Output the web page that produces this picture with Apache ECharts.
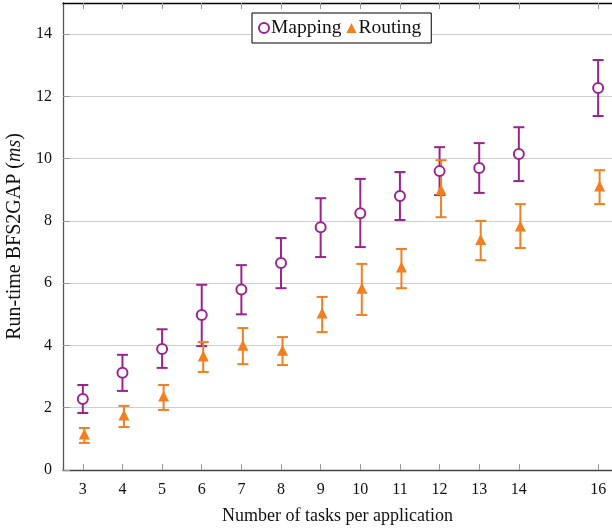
<!DOCTYPE html>
<html>
<head>
<meta charset="utf-8">
<script src="https://cdn.jsdelivr.net/npm/echarts@6/dist/echarts.min.js"></script>
<style>
  html, body { margin: 0; padding: 0; background: #fff; }
  #chart { width: 612px; height: 530px; }
</style>
</head>
<body>
<div id="chart"></div>
<script>
// number of tasks per application (x positions)
const tasks = [3, 4, 5, 6, 7, 8, 9, 10, 11, 12, 13, 14, 16];
const yTicks = [0, 2, 4, 6, 8, 10, 12, 14];

// Mapping: mean, lower and upper end of the error bar
const mappingMean = [2.28, 3.12, 3.89, 4.98, 5.80, 6.65, 7.80, 8.25, 8.80, 9.60, 9.70, 10.15, 12.27];
const mappingLow = [1.83, 2.54, 3.28, 3.98, 5.00, 5.84, 6.84, 7.16, 8.03, 8.83, 8.90, 9.28, 11.37];
const mappingHigh = [2.73, 3.70, 4.52, 5.95, 6.58, 7.45, 8.73, 9.35, 9.57, 10.37, 10.50, 11.01, 13.17];

// Routing
const routingMean = [1.16, 1.77, 2.38, 3.66, 4.01, 3.85, 5.04, 5.84, 6.52, 9.00, 7.40, 7.84, 9.12];
const routingLow = [0.87, 1.38, 1.93, 3.15, 3.40, 3.37, 4.43, 4.98, 5.84, 8.12, 6.74, 7.13, 8.54];
const routingHigh = [1.35, 2.06, 2.73, 4.11, 4.56, 4.27, 5.56, 6.62, 7.10, 9.95, 8.00, 8.54, 9.63];

const purple = '#9c2490';
const orange = '#f28022';
const font = 'Liberation Serif';

function errorBars(low, high, color, shift) {
  return {
    type: 'custom',
    silent: true,
    z: 2,
    data: tasks.map((t, i) => [t, low[i], high[i]]),
    encode: { x: 0, y: [1, 2] },
    renderItem: function (params, api) {
      const lo = api.coord([api.value(0), api.value(1)]);
      const hi = api.coord([api.value(0), api.value(2)]);
      const x = lo[0] + shift;
      const w = 5.5;
      const style = { stroke: color, lineWidth: 2, fill: null };
      return {
        type: 'group',
        children: [
          { type: 'line', shape: { x1: x, y1: lo[1], x2: x, y2: hi[1] }, style: style },
          { type: 'line', shape: { x1: x - w, y1: lo[1], x2: x + w, y2: lo[1] }, style: style },
          { type: 'line', shape: { x1: x - w, y1: hi[1], x2: x + w, y2: hi[1] }, style: style }
        ]
      };
    }
  };
}

let chart = echarts.init(document.getElementById('chart'));
let option = {
  animation: false,
  textStyle: { fontFamily: font },
  grid: { left: 63, right: 0, top: 3, bottom: 60, containLabel: false, outerBoundsMode: 'none' },
  legend: {
    left: 252,
    top: 13,
    padding: [5, 10, 5, 6],
    itemGap: 5,
    itemWidth: 10,
    itemHeight: 10,
    borderColor: '#000',
    borderWidth: 1,
    backgroundColor: '#fff',
    textStyle: { fontFamily: font, fontSize: 19.5, color: '#111', padding: [0, 0, 0, -3] },
    data: ['Mapping', 'Routing']
  },
  xAxis: [
    {
      type: 'value',
      min: 2.5,
      max: 16.35,
      name: 'Number of tasks per application',
      nameLocation: 'middle',
      nameGap: 37,
      nameTextStyle: { fontFamily: font, fontSize: 18, color: '#111' },
      axisLine: { lineStyle: { color: '#444', width: 1.3 } },
      axisTick: { inside: true, length: 6, customValues: tasks, lineStyle: { color: '#999' } },
      axisLabel: { customValues: tasks, margin: 12, fontFamily: font, fontSize: 16, color: '#111' },
      splitLine: { show: false }
    },
    {
      type: 'value',
      position: 'top',
      min: 2.5,
      max: 16.35,
      axisLine: { lineStyle: { color: '#000', width: 1.3 } },
      axisTick: { inside: true, length: 6, customValues: tasks, lineStyle: { color: '#999' } },
      axisLabel: { show: false },
      splitLine: { show: false }
    }
  ],
  yAxis: {
    type: 'value',
    min: 0,
    max: 15,
    interval: 2,
    name: 'Run-time BFS2GAP ({i|ms})',
    nameLocation: 'middle',
    nameGap: 34,
    nameTextStyle: {
      fontFamily: font, fontSize: 20, color: '#111',
      rich: { i: { fontFamily: font, fontSize: 20, fontStyle: 'italic', color: '#111' } }
    },
    axisLine: { show: true, lineStyle: { color: '#555', width: 1.3 } },
    axisTick: { inside: true, length: 7, customValues: yTicks, lineStyle: { color: '#999' } },
    axisLabel: { customValues: yTicks, margin: 11, fontFamily: font, fontSize: 16, color: '#111' },
    splitLine: { show: true, lineStyle: { color: '#cfcfcf', width: 1.2 } }
  },
  series: [
    errorBars(mappingLow, mappingHigh, purple, 0),
    errorBars(routingLow, routingHigh, orange, 1.5),
    {
      name: 'Mapping',
      type: 'scatter',
      symbol: 'emptyCircle',
      symbolSize: 10,
      z: 3,
      itemStyle: { color: purple, borderColor: purple, borderWidth: 1.6, opacity: 1 },
      data: tasks.map((t, i) => [t, mappingMean[i]])
    },
    {
      name: 'Routing',
      type: 'scatter',
      symbol: 'triangle',
      symbolSize: 11,
      symbolOffset: [1.5, 0],
      z: 3,
      itemStyle: { color: orange, opacity: 1 },
      data: tasks.map((t, i) => [t, routingMean[i]])
    }
  ]
};
chart.setOption(option);
</script>
</body>
</html>
